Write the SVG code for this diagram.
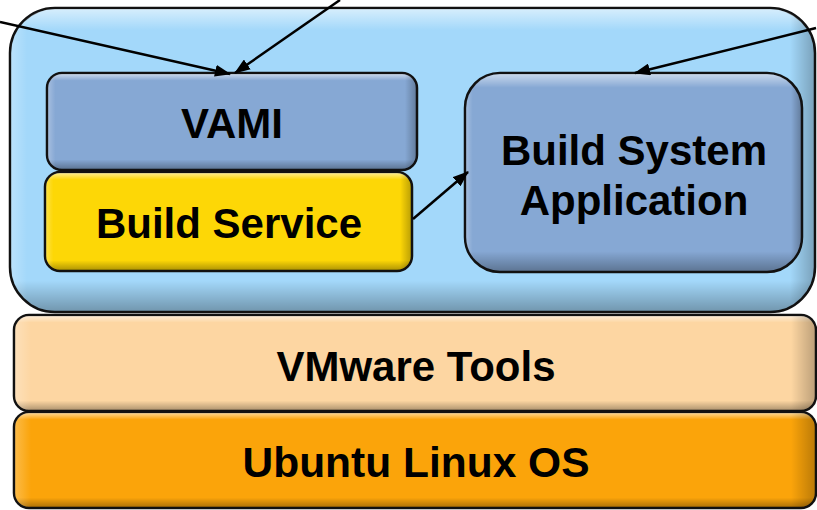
<svg xmlns="http://www.w3.org/2000/svg" width="817" height="510" viewBox="0 0 817 510">
<defs>
<style>
.box{stroke:#111;stroke-width:2.5}
.lbl{font-family:"Liberation Sans",Arial,sans-serif;font-weight:bold;font-size:42px;fill:#000;text-anchor:middle}
.conn{stroke:#000;stroke-width:2.5;fill:none;marker-end:url(#ah)}
.shv{fill:url(#gv);stroke:none}
.shh{fill:url(#gh);stroke:none}
</style>
<linearGradient id="gv" x1="0" y1="0" x2="0" y2="1">
<stop offset="0" stop-color="#fff" stop-opacity="0.55"/>
<stop offset="0.07" stop-color="#fff" stop-opacity="0"/>
<stop offset="0.9" stop-color="#000" stop-opacity="0"/>
<stop offset="1" stop-color="#000" stop-opacity="0.3"/>
</linearGradient>
<linearGradient id="gh" x1="0" y1="0" x2="1" y2="0">
<stop offset="0" stop-color="#fff" stop-opacity="0.25"/>
<stop offset="0.02" stop-color="#fff" stop-opacity="0"/>
<stop offset="0.97" stop-color="#000" stop-opacity="0"/>
<stop offset="1" stop-color="#000" stop-opacity="0.25"/>
</linearGradient>
<marker id="ah" viewBox="0 0 16 12" refX="15" refY="6" markerWidth="16" markerHeight="12" markerUnits="userSpaceOnUse" orient="auto">
<path d="M0,0 L16,6 L0,12 Z" fill="#000"/>
</marker>
</defs>
<g id="container">
<rect class="box" x="10" y="8" width="805" height="304" rx="45" fill="#a3d8fa"/>
<rect class="shv" x="11" y="9" width="803" height="302" rx="44"/>
<rect class="shh" x="11" y="9" width="803" height="302" rx="44"/>
</g>
<g id="vami">
<rect class="box" x="47" y="73" width="370" height="97" rx="15" fill="#86a8d4"/>
<rect class="shv" x="48" y="74" width="368" height="95" rx="14"/>
<rect class="shh" x="48" y="74" width="368" height="95" rx="14"/>
<text class="lbl" x="232" y="138" font-size="40">VAMI</text>
</g>
<g id="build-service">
<rect class="box" x="45" y="172" width="367" height="99" rx="15" fill="#fdd706"/>
<rect class="shv" x="46" y="173" width="365" height="97" rx="14"/>
<rect class="shh" x="46" y="173" width="365" height="97" rx="14"/>
<text class="lbl" x="229" y="238">Build Service</text>
</g>
<g id="build-system-app">
<rect class="box" x="465" y="73" width="337" height="199" rx="35" fill="#86a8d4"/>
<rect class="shv" x="466" y="74" width="335" height="197" rx="34"/>
<rect class="shh" x="466" y="74" width="335" height="197" rx="34"/>
<text class="lbl" x="634" y="165">Build System</text>
<text class="lbl" x="634" y="215">Application</text>
</g>
<g id="vmware-tools">
<rect class="box" x="14" y="315" width="802" height="96" rx="15" fill="#fdd6a2"/>
<rect class="shv" x="15" y="316" width="800" height="94" rx="14"/>
<rect class="shh" x="15" y="316" width="800" height="94" rx="14"/>
<text class="lbl" x="416" y="381" textLength="279" lengthAdjust="spacingAndGlyphs">VMware Tools</text>
</g>
<g id="ubuntu">
<rect class="box" x="14" y="412" width="802" height="96" rx="15" fill="#fba40a"/>
<rect class="shv" x="15" y="413" width="800" height="94" rx="14"/>
<rect class="shh" x="15" y="413" width="800" height="94" rx="14"/>
<text class="lbl" x="416" y="477" textLength="347" lengthAdjust="spacingAndGlyphs">Ubuntu Linux OS</text>
</g>
<g id="connectors">
<line class="conn" x1="0" y1="22" x2="230" y2="74"/>
<line class="conn" x1="340" y1="0" x2="235" y2="73"/>
<line class="conn" x1="816" y1="28" x2="635" y2="73"/>
<line class="conn" x1="413" y1="219" x2="468" y2="172"/>
</g>
</svg>
